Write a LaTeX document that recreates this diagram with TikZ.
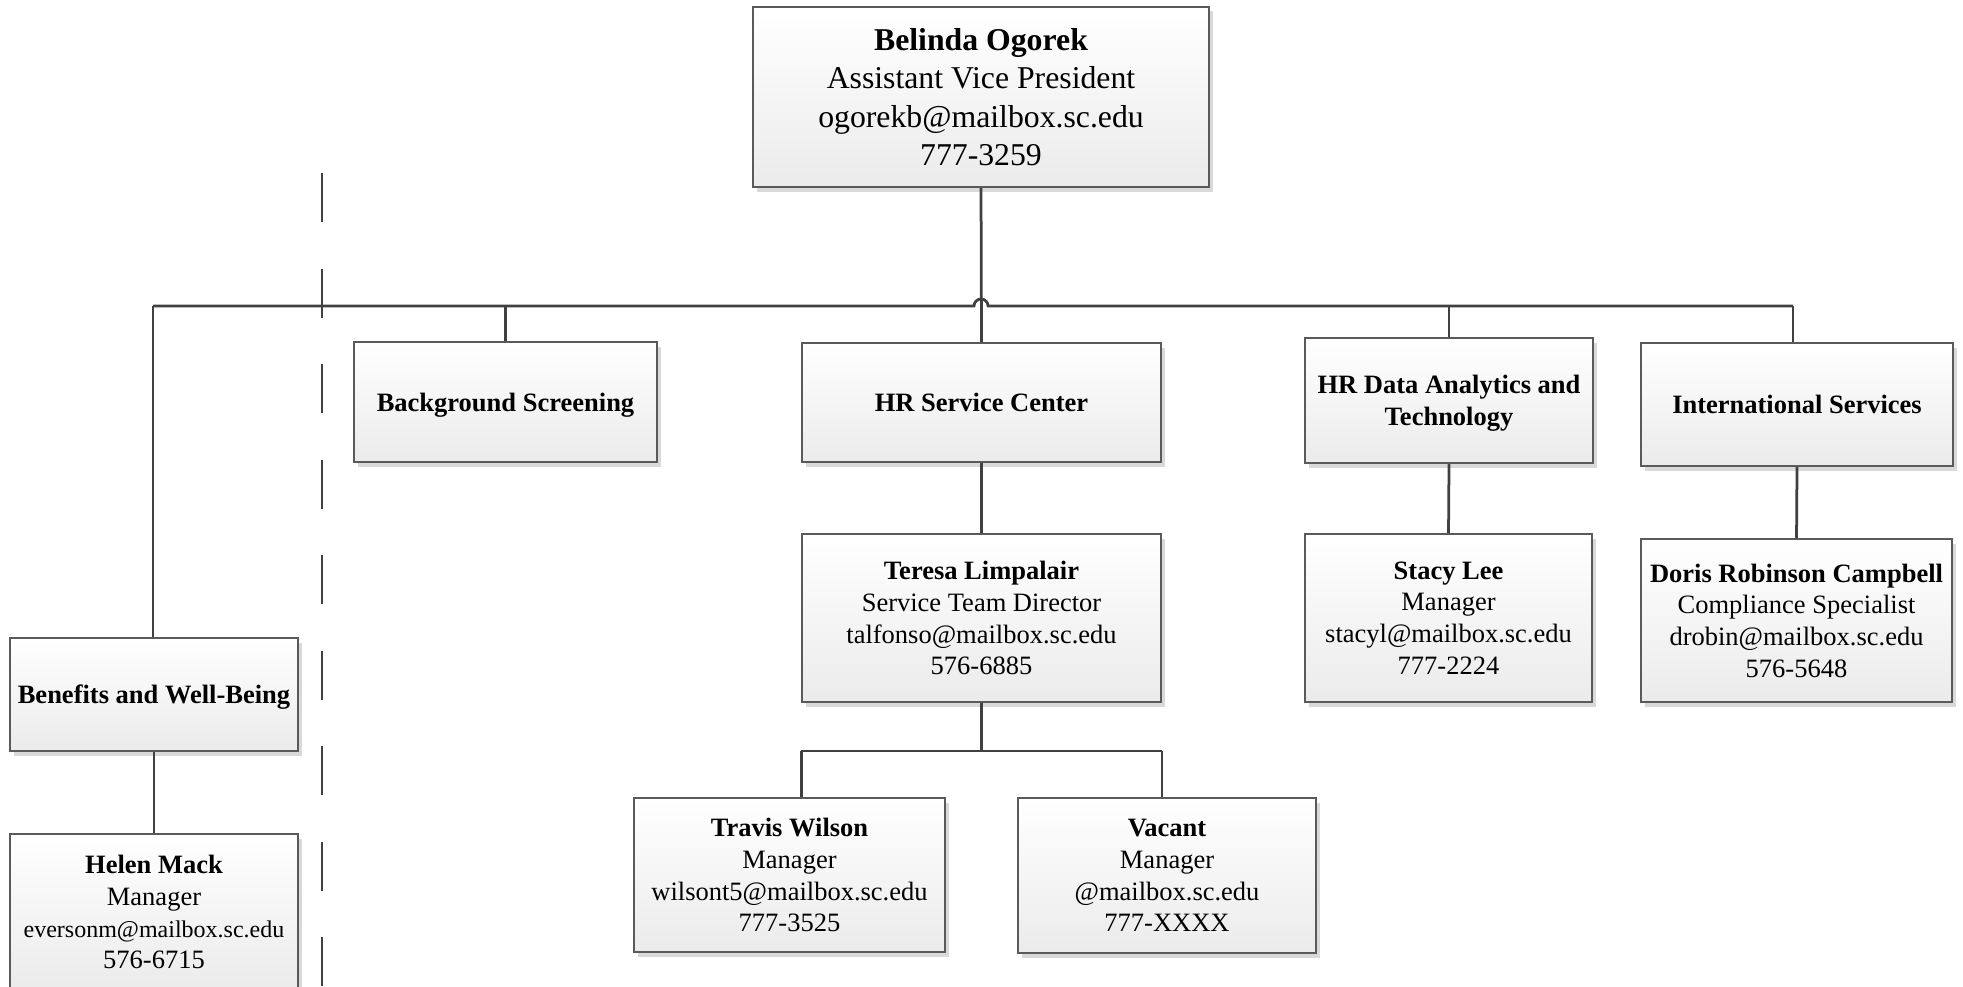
\documentclass[tikz,border=0pt]{standalone}
\usepackage{fontspec}
\setmainfont{Liberation Serif}
\usetikzlibrary{arrows.meta, calc, positioning, shadows}
\definecolor{boxline}{HTML}{5A5A5A}
\definecolor{wireline}{HTML}{404040}
\definecolor{boxlow}{HTML}{EBEBEB}
\tikzset{
  align=center,
  wire/.style={draw=wireline,line width=1.1pt},
  sepline/.style={draw=wireline,line width=1.1pt,dash pattern=on 19.6pt off 18.6pt},
  sz/.style 2 args={minimum width=#1*0.4pt,minimum height=#2*0.4pt}
}

\begin{document}
\begin{tikzpicture}[x=0.4pt,y=-0.4pt]
  \tikzset{unit/.style={rectangle,draw=boxline,line width=0.7pt,top color=white,bottom color=boxlow,inner sep=0pt,text depth=0pt,font=\fontsize{10.6}{12.7}\selectfont,drop shadow={shadow xshift=1.6pt,shadow yshift=-1.8pt,fill=black!15,opacity=1}}};
  \def\bigtxt{\fontsize{12.7}{15.3}\selectfont};
  \def\smalltxt{\fontsize{9.6}{12.2}\selectfont};

  \clip (0,0) rectangle (1963,986);

  \node[unit,sz={456}{180},font=\bigtxt] (avp) at (981,97) {\textbf{Belinda Ogorek}\\Assistant Vice President\\ogorekb@mailbox.sc.edu\\777-3259};

  \node[unit,sz={303}{120}] (bgscr) at (505.5,402) {\textbf{Background Screening}};
  \node[unit,sz={359}{119}] (hrsc) at (981.5,402.5) {\textbf{HR Service Center}};
  \node[unit,sz={288}{125}] (hrdat) at (1449,400.5) {\textbf{HR Data Analytics and}\\\textbf{Technology}};
  \node[unit,sz={312}{123}] (intl) at (1797,404.5) {\textbf{International Services}};

  \node[unit,sz={359}{168}] (tlimp) at (981.5,618) {\textbf{Teresa Limpalair}\\Service Team Director\\talfonso@mailbox.sc.edu\\576-6885};
  \node[unit,sz={287}{168}] (slee) at (1448.5,618) {\textbf{Stacy Lee}\\Manager\\stacyl@mailbox.sc.edu\\777-2224};
  \node[unit,sz={311}{163}] (drc) at (1796.5,620.5) {\textbf{Doris Robinson Campbell}\\Compliance Specialist\\drobin@mailbox.sc.edu\\576-5648};

  \node[unit,sz={311}{154}] (twil) at (789.5,875) {\textbf{Travis Wilson}\\Manager\\wilsont5@mailbox.sc.edu\\777-3525};
  \node[unit,sz={298}{155}] (vac) at (1167,875.5) {\textbf{Vacant}\\Manager\\@mailbox.sc.edu\\777-XXXX};

  \node[unit,sz={288}{113}] (bwb) at (154,694.5) {\textbf{Benefits and Well-Being}};
  \node[unit,sz={288}{156}] (hmack) at (154,912) {\textbf{Helen Mack}\\Manager\\{\smalltxt eversonm@mailbox.sc.edu}\\576-6715};

  % bus with hop over the centre line
  \coordinate (busl) at (153,306);
  \coordinate (busr) at (1793,306);
  \draw[wire] (busl) -- ($(avp.south |- busl)+(-7,0)$) arc[start angle=180,end angle=0,radius=2.8pt] -- (busr);
  \draw[wire] (avp.south) -- (hrsc.north);
  \draw[wire] (busl) -- (busl |- bwb.north);
  \draw[wire] (bgscr.north |- busl) -- (bgscr.north);
  \draw[wire] (hrdat.north |- busl) -- (hrdat.north);
  \draw[wire] (busr) -- (busr |- intl.north);

  % dashed separator
  \coordinate (sept) at (322,173);
  \coordinate (sepb) at (322,1000);
  \draw[sepline] (sept) -- (sepb);

  \draw[wire] (bwb.south) -- (hmack.north);
  \draw[wire] (hrsc.south) -- (tlimp.north);
  \draw[wire] (hrdat.south) -- (slee.north);
  \draw[wire] (intl.south) -- (drc.north);

  \coordinate (tj) at ($(tlimp.south)+(0,48)$);
  \coordinate (tjl) at (tlimp.south west |- tj);
  \coordinate (tjr) at (tlimp.south east |- tj);
  \draw[wire] (tlimp.south) -- (tj);
  \draw[wire] (tjl) -- (tjr);
  \draw[wire] (tjl) -- (tjl |- twil.north);
  \draw[wire] (tjr) -- (tjr |- vac.north);
\end{tikzpicture}
\end{document}
